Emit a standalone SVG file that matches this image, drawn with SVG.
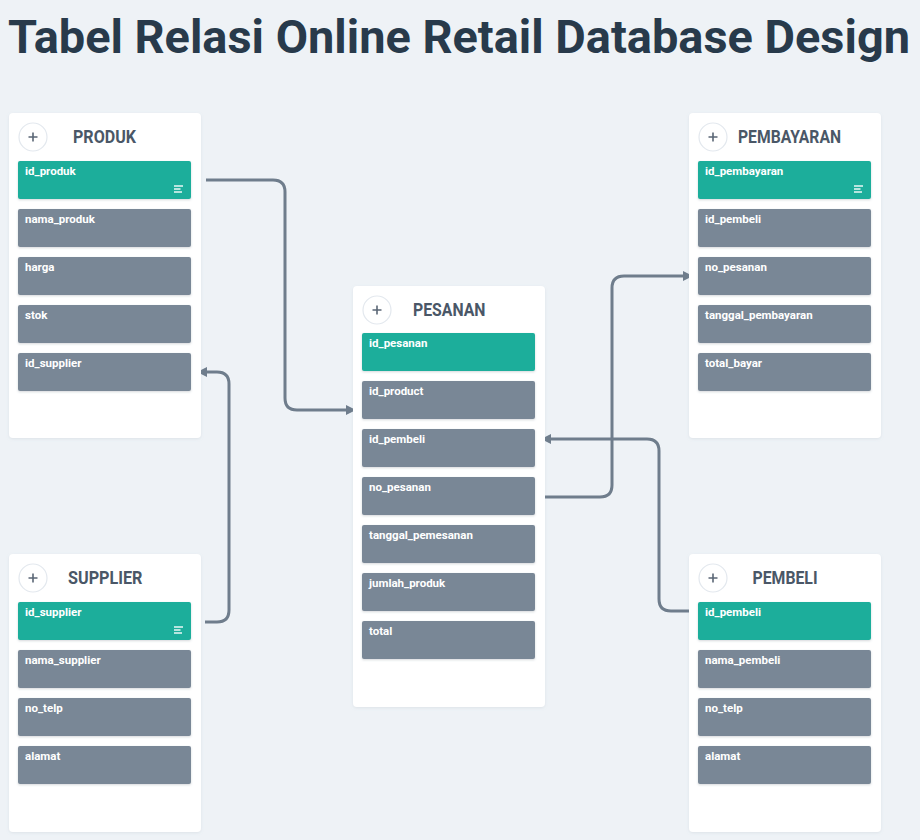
<svg xmlns="http://www.w3.org/2000/svg" width="920" height="840" viewBox="0 0 920 840">
<defs>
<style>
.bg{fill:#eef2f6}
.card{fill:#ffffff;filter:url(#sh)}
.pk{fill:#1aae9b;filter:url(#fsh)}
.fd{fill:#798796;filter:url(#fsh)}
.lbl{font-family:Roboto,"Liberation Sans",sans-serif;font-weight:700;font-size:11.5px;fill:#ffffff}
.hdr{font-family:Roboto,"Liberation Sans",sans-serif;font-weight:700;font-size:17.5px;fill:#4a5767}
.title{font-family:Roboto,"Liberation Sans",sans-serif;font-weight:700;font-size:46px;fill:#283a4b}
.pc{fill:#ffffff;stroke:#e3e8ee;stroke-width:1.2}
.pl{stroke:#5a6675;stroke-width:1.6;fill:none}
.ic{stroke:#ffffff;stroke-width:1.5;opacity:0.9}
.con{fill:none;stroke:#6f7d8c;stroke-width:3;marker-end:url(#arr)}
</style>
<filter id="sh" x="-10%" y="-10%" width="120%" height="120%">
<feDropShadow dx="0" dy="1" stdDeviation="1.5" flood-color="#8a99a8" flood-opacity="0.18"/>
</filter>
<filter id="fsh" x="-10%" y="-20%" width="120%" height="150%">
<feDropShadow dx="0" dy="1" stdDeviation="1" flood-color="#55606c" flood-opacity="0.25"/>
</filter>
<marker id="arr" markerUnits="userSpaceOnUse" markerWidth="10" markerHeight="10" refX="4" refY="5" orient="auto">
<path d="M0,0 L10,5 L0,10 Z" fill="#6f7d8c"/>
</marker>
</defs>
<rect class="bg" x="0" y="0" width="920" height="840"/>
<text class="title" x="8" y="53" textLength="902" lengthAdjust="spacingAndGlyphs">Tabel Relasi Online Retail Database Design</text>

<g id="connectors">
<path class="con" d="M206,180 H273 Q285,180 285,192 V398 Q285,410 297,410 H350"/>
<path class="con" d="M541,497 H600 Q612,497 612,485 V288 Q612,276 624,276 H687"/>
<path class="con" d="M692,611 H671 Q659,611 659,599 V451 Q659,439 647,439 H547"/>
<path class="con" d="M205,622 H217 Q229,622 229,610 V384 Q229,372 217,372 H203"/>
</g>

<g id="produk">
<rect class="card" x="9" y="113" width="192" height="325" rx="4"/>
<circle class="pc" cx="33" cy="137" r="14"/>
<path class="pl" d="M28.5,137 H37.5 M33,132.5 V141.5"/>
<text class="hdr" x="73" y="143" textLength="63" lengthAdjust="spacingAndGlyphs">PRODUK</text>
<rect class="pk" x="18" y="161" width="173" height="38" rx="2"/>
<text class="lbl" x="25" y="175">id_produk</text>
<path class="ic" d="M174,186 H183 M174,189 H180.5 M174,192 H182"/>
<rect class="fd" x="18" y="209" width="173" height="38" rx="2"/>
<text class="lbl" x="25" y="223">nama_produk</text>
<rect class="fd" x="18" y="257" width="173" height="38" rx="2"/>
<text class="lbl" x="25" y="271">harga</text>
<rect class="fd" x="18" y="305" width="173" height="38" rx="2"/>
<text class="lbl" x="25" y="319">stok</text>
<rect class="fd" x="18" y="353" width="173" height="38" rx="2"/>
<text class="lbl" x="25" y="367">id_supplier</text>
</g>

<g id="supplier">
<rect class="card" x="9" y="554" width="192" height="278" rx="4"/>
<circle class="pc" cx="33" cy="578" r="14"/>
<path class="pl" d="M28.5,578 H37.5 M33,573.5 V582.5"/>
<text class="hdr" x="68" y="584" textLength="74.5" lengthAdjust="spacingAndGlyphs">SUPPLIER</text>
<rect class="pk" x="18" y="602" width="173" height="38" rx="2"/>
<text class="lbl" x="25" y="616">id_supplier</text>
<path class="ic" d="M174,627 H183 M174,630 H180.5 M174,633 H182"/>
<rect class="fd" x="18" y="650" width="173" height="38" rx="2"/>
<text class="lbl" x="25" y="664">nama_supplier</text>
<rect class="fd" x="18" y="698" width="173" height="38" rx="2"/>
<text class="lbl" x="25" y="712">no_telp</text>
<rect class="fd" x="18" y="746" width="173" height="38" rx="2"/>
<text class="lbl" x="25" y="760">alamat</text>
</g>

<g id="pesanan">
<rect class="card" x="353" y="286" width="192" height="421" rx="4"/>
<circle class="pc" cx="377" cy="310" r="14"/>
<path class="pl" d="M372.5,310 H381.5 M377,305.5 V314.5"/>
<text class="hdr" x="413" y="316" textLength="72.5" lengthAdjust="spacingAndGlyphs">PESANAN</text>
<rect class="pk" x="362" y="333" width="173" height="38" rx="2"/>
<text class="lbl" x="369" y="347">id_pesanan</text>
<rect class="fd" x="362" y="381" width="173" height="38" rx="2"/>
<text class="lbl" x="369" y="395">id_product</text>
<rect class="fd" x="362" y="429" width="173" height="38" rx="2"/>
<text class="lbl" x="369" y="443">id_pembeli</text>
<rect class="fd" x="362" y="477" width="173" height="38" rx="2"/>
<text class="lbl" x="369" y="491">no_pesanan</text>
<rect class="fd" x="362" y="525" width="173" height="38" rx="2"/>
<text class="lbl" x="369" y="539">tanggal_pemesanan</text>
<rect class="fd" x="362" y="573" width="173" height="38" rx="2"/>
<text class="lbl" x="369" y="587">jumlah_produk</text>
<rect class="fd" x="362" y="621" width="173" height="38" rx="2"/>
<text class="lbl" x="369" y="635">total</text>
</g>

<g id="pembayaran">
<rect class="card" x="689" y="113" width="192" height="325" rx="4"/>
<circle class="pc" cx="713" cy="137" r="14"/>
<path class="pl" d="M708.5,137 H717.5 M713,132.5 V141.5"/>
<text class="hdr" x="738" y="143" textLength="103" lengthAdjust="spacingAndGlyphs">PEMBAYARAN</text>
<rect class="pk" x="698" y="161" width="173" height="38" rx="2"/>
<text class="lbl" x="705" y="175">id_pembayaran</text>
<path class="ic" d="M854,186 H863 M854,189 H860.5 M854,192 H862"/>
<rect class="fd" x="698" y="209" width="173" height="38" rx="2"/>
<text class="lbl" x="705" y="223">id_pembeli</text>
<rect class="fd" x="698" y="257" width="173" height="38" rx="2"/>
<text class="lbl" x="705" y="271">no_pesanan</text>
<rect class="fd" x="698" y="305" width="173" height="38" rx="2"/>
<text class="lbl" x="705" y="319">tanggal_pembayaran</text>
<rect class="fd" x="698" y="353" width="173" height="38" rx="2"/>
<text class="lbl" x="705" y="367">total_bayar</text>
</g>

<g id="pembeli">
<rect class="card" x="689" y="554" width="192" height="278" rx="4"/>
<circle class="pc" cx="713" cy="578" r="14"/>
<path class="pl" d="M708.5,578 H717.5 M713,573.5 V582.5"/>
<text class="hdr" x="752.5" y="584" textLength="65" lengthAdjust="spacingAndGlyphs">PEMBELI</text>
<rect class="pk" x="698" y="602" width="173" height="38" rx="2"/>
<text class="lbl" x="705" y="616">id_pembeli</text>
<rect class="fd" x="698" y="650" width="173" height="38" rx="2"/>
<text class="lbl" x="705" y="664">nama_pembeli</text>
<rect class="fd" x="698" y="698" width="173" height="38" rx="2"/>
<text class="lbl" x="705" y="712">no_telp</text>
<rect class="fd" x="698" y="746" width="173" height="38" rx="2"/>
<text class="lbl" x="705" y="760">alamat</text>
</g>
</svg>
